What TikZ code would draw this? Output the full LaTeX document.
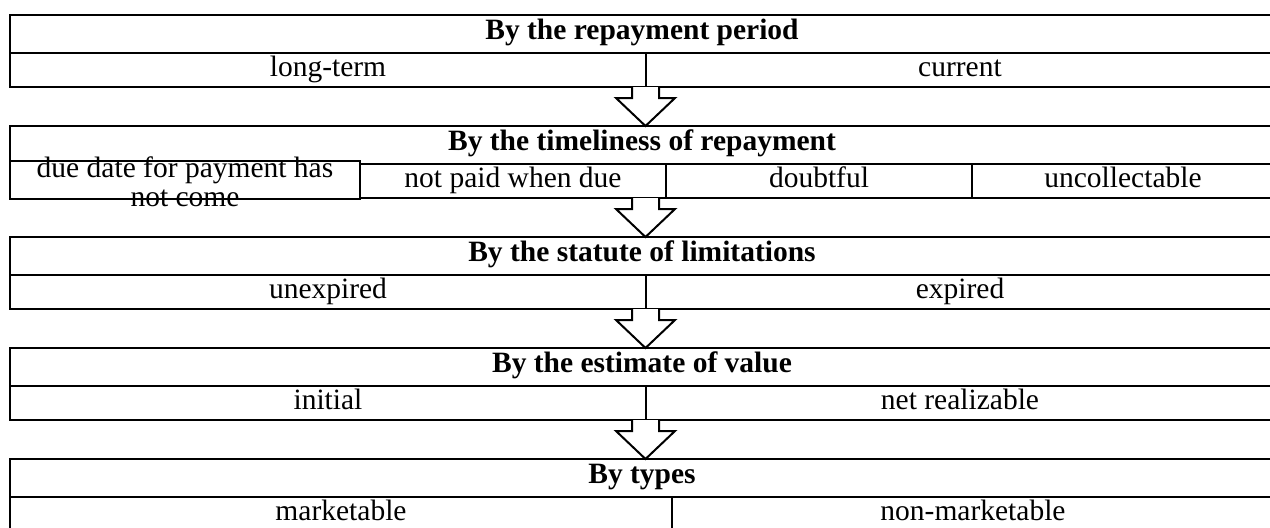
\documentclass[tikz,border=0pt]{standalone}
\usepackage{fontspec}
\setmainfont{Liberation Serif}
\usepackage{tikz}
\def\blockarrow(#1)(#2){\draw[line width=1pt, fill=white] (#1) ++(-13.5,0) -- ++(0,11) -- ++(-16,0) -- (#2) -- ++(29.5,-28) -- ++(-16,0) -- ++(0,-11);}
\tikzset{
	frame/.style={line width=1pt},
	inner/.style={line width=0.75pt},
	lbl/.style={font=\fontsize{14.75}{14}\selectfont, text height=0.75em, text depth=0.07em, inner sep=0pt},
	ttl/.style={font=\fontsize{14.75}{14}\selectfont\bfseries, text height=0.7em, text depth=0.16em, inner sep=0pt},
}
\begin{document}
\begin{tikzpicture}[x=0.5pt, y=-0.5pt]
			%%%%% START %%%%%
			\useasboundingbox (0,0) rectangle (1270,527);
			
			% five boxes, one above the other
			\foreach \t in {15,126,237,348,459} {
				\draw[inner] (10,\t+38) -- (1274,\t+38);
				\draw[frame] (10,\t) rectangle (1274,\t+72);
			}
			
			% box 1
			\draw[inner] (646,53) -- (646,87);
			\node[ttl] (period) at (642,34) {By the repayment period};
			\node[lbl] (longterm) at (328,70) {long-term};
			\node[lbl] (current) at (960,70) {current};
			
			% box 2
			\draw[inner] (666,164) -- (666,198);
			\draw[inner] (972,164) -- (972,198);
			\draw[frame, fill=white] (10,161) rectangle (360,199);
			\node[ttl] (timeliness) at (642,145) {By the timeliness of repayment};
			\node[font=\fontsize{14.75}{14.5}\selectfont, align=center, inner sep=0pt] (notcome) at (185,182) {due date for payment has\\not come};
			\node[lbl] (notpaid) at (513,181) {not paid when due};
			\node[lbl] (doubtful) at (819,181) {doubtful};
			\node[lbl] (uncollect) at (1123,181) {uncollectable};
			
			% box 3
			\draw[inner] (646,275) -- (646,309);
			\node[ttl] (statute) at (642,256) {By the statute of limitations};
			\node[lbl] (unexpired) at (328,292) {unexpired};
			\node[lbl] (expired) at (960,292) {expired};
			
			% box 4
			\draw[inner] (646,386) -- (646,420);
			\node[ttl] (estimate) at (642,367) {By the estimate of value};
			\node[lbl] (initial) at (328,403) {initial};
			\node[lbl] (netreal) at (960,403) {net realizable};
			
			% box 5
			\draw[inner] (672,497) -- (672,531);
			\node[ttl] (types) at (642,478) {By types};
			\node[lbl] (marketable) at (341,514) {marketable};
			\node[lbl] (nonmarket) at (973,514) {non-marketable};
			
			% arrows between the boxes
			\foreach \b in {87,198,309,420} {
				\coordinate (from) at (645.5,\b);
				\coordinate (to) at (645.5,\b+39);
				\blockarrow(from)(to)
			}
			%%%%% END %%%%%
\end{tikzpicture}
\end{document}
